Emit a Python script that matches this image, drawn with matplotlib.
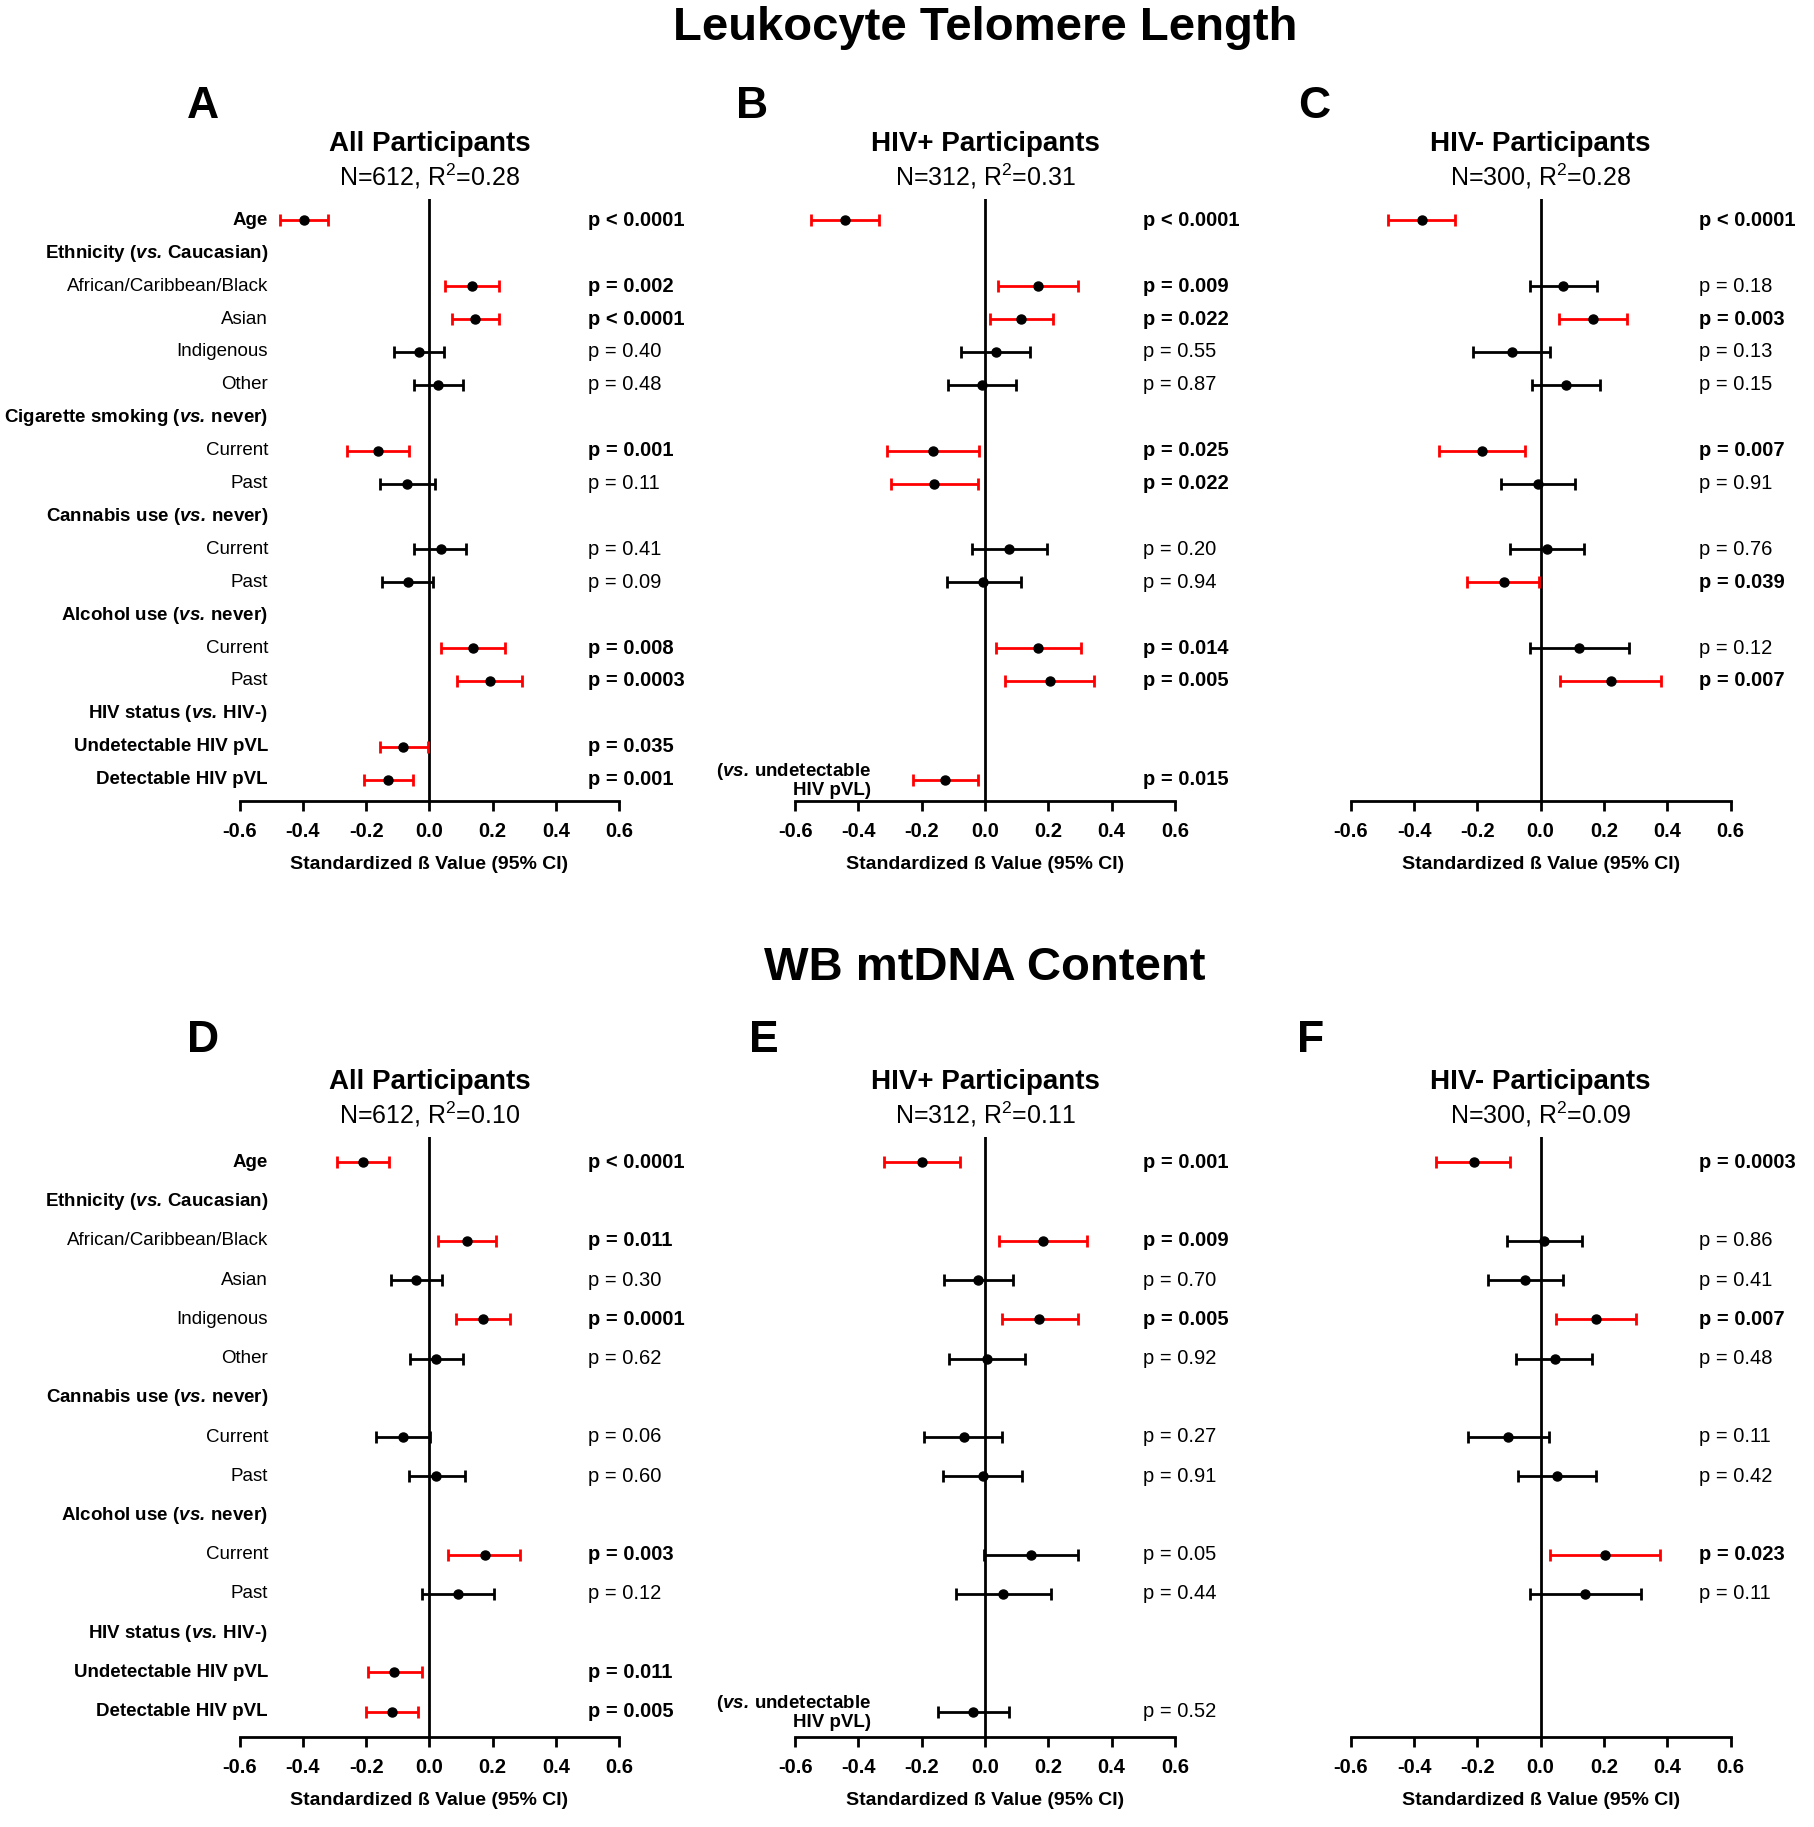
import numpy as np
import matplotlib
matplotlib.use("Agg")
import matplotlib.pyplot as plt

plt.rcParams["font.family"] = ["Liberation Sans", "DejaVu Sans"]
plt.rcParams["mathtext.fontset"] = "custom"
plt.rcParams["mathtext.rm"] = "Liberation Sans"
plt.rcParams["mathtext.it"] = "Liberation Sans:italic"
plt.rcParams["mathtext.bf"] = "Liberation Sans:bold"
plt.rcParams["mathtext.bfit"] = "Liberation Sans:bold:italic"
plt.rcParams["mathtext.default"] = "regular"

nan = np.nan

# row labels (text, bold)
VS = r"$\mathbfit{vs.}\,$"
labels_top = [("Age", True), ("Ethnicity (" + VS + "Caucasian)", True),
              ("African/Caribbean/Black", False), ("Asian", False), ("Indigenous", False), ("Other", False),
              ("Cigarette smoking (" + VS + "never)", True), ("Current", False), ("Past", False),
              ("Cannabis use (" + VS + "never)", True), ("Current", False), ("Past", False),
              ("Alcohol use (" + VS + "never)", True), ("Current", False), ("Past", False),
              ("HIV status (" + VS + "HIV-)", True), ("Undetectable HIV pVL", True), ("Detectable HIV pVL", True)]
rows_top = [0, 2, 3, 4, 5, 7, 8, 10, 11, 13, 14, 16, 17]

labels_bot = [("Age", True), ("Ethnicity (" + VS + "Caucasian)", True),
              ("African/Caribbean/Black", False), ("Asian", False), ("Indigenous", False), ("Other", False),
              ("Cannabis use (" + VS + "never)", True), ("Current", False), ("Past", False),
              ("Alcohol use (" + VS + "never)", True), ("Current", False), ("Past", False),
              ("HIV status (" + VS + "HIV-)", True), ("Undetectable HIV pVL", True), ("Detectable HIV pVL", True)]
rows_bot = [0, 2, 3, 4, 5, 7, 8, 10, 11, 13, 14]

# Leukocyte telomere length
est_A = [-0.398, 0.134, 0.144, -0.032, 0.027, -0.162, -0.070, 0.035, -0.069, 0.137, 0.190, -0.083, -0.130]
lo_A = [-0.473, 0.050, 0.070, -0.111, -0.048, -0.260, -0.157, -0.048, -0.150, 0.035, 0.087, -0.157, -0.207]
hi_A = [-0.322, 0.220, 0.221, 0.046, 0.105, -0.064, 0.017, 0.116, 0.010, 0.239, 0.294, -0.004, -0.053]
p_A = ["p < 0.0001", "p = 0.002", "p < 0.0001", "p = 0.40", "p = 0.48", "p = 0.001", "p = 0.11",
       "p = 0.41", "p = 0.09", "p = 0.008", "p = 0.0003", "p = 0.035", "p = 0.001"]

est_B = [-0.444, 0.167, 0.114, 0.034, -0.010, -0.166, -0.160, 0.077, -0.005, 0.167, 0.204, nan, -0.125]
lo_B = [-0.549, 0.041, 0.016, -0.075, -0.117, -0.311, -0.296, -0.042, -0.121, 0.035, 0.063, nan, -0.228]
hi_B = [-0.335, 0.295, 0.214, 0.141, 0.097, -0.020, -0.022, 0.195, 0.113, 0.302, 0.345, nan, -0.023]
p_B = ["p < 0.0001", "p = 0.009", "p = 0.022", "p = 0.55", "p = 0.87", "p = 0.025", "p = 0.022",
       "p = 0.20", "p = 0.94", "p = 0.014", "p = 0.005", "", "p = 0.015"]

est_C = [-0.376, 0.071, 0.166, -0.091, 0.080, -0.186, -0.007, 0.019, -0.117, 0.122, 0.221, nan, nan]
lo_C = [-0.482, -0.034, 0.058, -0.213, -0.027, -0.322, -0.124, -0.098, -0.233, -0.033, 0.061, nan, nan]
hi_C = [-0.270, 0.177, 0.273, 0.029, 0.187, -0.050, 0.109, 0.137, -0.005, 0.278, 0.380, nan, nan]
p_C = ["p < 0.0001", "p = 0.18", "p = 0.003", "p = 0.13", "p = 0.15", "p = 0.007", "p = 0.91",
       "p = 0.76", "p = 0.039", "p = 0.12", "p = 0.007", "", ""]

# WB mtDNA content
est_D = [-0.209, 0.119, -0.042, 0.168, 0.021, -0.084, 0.022, 0.174, 0.090, -0.111, -0.118]
lo_D = [-0.291, 0.028, -0.123, 0.083, -0.062, -0.168, -0.064, 0.059, -0.022, -0.195, -0.202]
hi_D = [-0.127, 0.211, 0.039, 0.253, 0.105, 0.001, 0.111, 0.286, 0.203, -0.025, -0.035]
p_D = ["p < 0.0001", "p = 0.011", "p = 0.30", "p = 0.0001", "p = 0.62", "p = 0.06", "p = 0.60",
       "p = 0.003", "p = 0.12", "p = 0.011", "p = 0.005"]

est_E = [-0.198, 0.182, -0.022, 0.172, 0.006, -0.068, -0.008, 0.145, 0.058, nan, -0.037]
lo_E = [-0.319, 0.043, -0.131, 0.053, -0.113, -0.193, -0.134, -0.004, -0.092, nan, -0.150]
hi_E = [-0.078, 0.321, 0.089, 0.293, 0.125, 0.054, 0.118, 0.295, 0.209, nan, 0.076]
p_E = ["p = 0.001", "p = 0.009", "p = 0.70", "p = 0.005", "p = 0.92", "p = 0.27", "p = 0.91",
       "p = 0.05", "p = 0.44", "", "p = 0.52"]

est_F = [-0.212, 0.012, -0.050, 0.174, 0.044, -0.103, 0.051, 0.203, 0.141, nan, nan]
lo_F = [-0.331, -0.107, -0.167, 0.049, -0.077, -0.230, -0.073, 0.028, -0.034, nan, nan]
hi_F = [-0.096, 0.130, 0.070, 0.300, 0.161, 0.026, 0.175, 0.377, 0.317, nan, nan]
p_F = ["p = 0.0003", "p = 0.86", "p = 0.41", "p = 0.007", "p = 0.48", "p = 0.11", "p = 0.42",
       "p = 0.023", "p = 0.11", "", ""]

W, H = 1815, 1827
fig = plt.figure(figsize=(W / 100, H / 100), dpi=100)


def px(x, y):
    return x / W, 1 - y / H


def significant(p):
    if "<" in p:
        return True
    return float(p.split("=")[1]) < 0.05


def panel(left, top_px, base_px, n_rows, rows, est, lo, hi, pv, title, sub, labels=None, note=False):
    x0, y1 = px(left, top_px)
    _, y0 = px(left, base_px)
    ax = fig.add_axes([x0, y0, 379.7 / W, y1 - y0])
    for r, e, l, h, p in zip(rows, est, lo, hi, pv):
        if p:
            sig = significant(p)
            ax.text(0.5, r, p, ha="left", va="center", fontsize=14.5,
                    fontweight="bold" if sig else "normal")
        if np.isnan(e):
            continue
        c = "#ff0000" if sig else "black"
        ax.errorbar([e], [r], xerr=[[e - l], [h - e]], fmt="o", color="black", ms=6.5,
                    ecolor=c, elinewidth=2, capsize=4.5, capthick=2, zorder=3)
    ax.axvline(0, color="black", lw=2, zorder=2)
    ax.set_xlim(-0.6, 0.6)
    ax.set_ylim(n_rows - 1 + 0.65, -0.65)
    ax.set_xticks(np.arange(-0.6, 0.61, 0.2))
    ax.set_xticklabels(["-0.6", "-0.4", "-0.2", "0.0", "0.2", "0.4", "0.6"], fontweight="bold", fontsize=14.5)
    ax.set_yticks([])
    for s in ["top", "right", "left"]:
        ax.spines[s].set_visible(False)
    ax.spines["bottom"].set_linewidth(2)
    ax.tick_params(axis="x", width=2, length=7, pad=8)
    ax.set_xlabel("Standardized ß Value (95% CI)", fontweight="bold", fontsize=14, labelpad=11)
    if labels:
        for i, (t, b) in enumerate(labels):
            ax.text(-0.51, i, t, ha="right", va="center", fontsize=13.5,
                    fontweight="bold" if b else "normal")
    if note:
        ax.text(-0.36, n_rows - 1, "(" + VS + "undetectable\nHIV pVL)", ha="right", va="center",
                fontsize=13.5, fontweight="bold", linespacing=1.0)
    cx = left + 379.7 / 2
    fig.text(*px(cx, top_px - 55), title, ha="center", va="center", fontsize=20, fontweight="bold")
    fig.text(*px(cx, top_px - 23), sub, ha="center", va="center", fontsize=18)
    return ax


lefts = [239.6, 795.2, 1350.8]

# top row
panel(lefts[0], 199, 801, 18, rows_top, est_A, lo_A, hi_A, p_A, "All Participants",
      "N=612, R$^{2}$=0.28", labels=labels_top)
panel(lefts[1], 199, 801, 18, rows_top, est_B, lo_B, hi_B, p_B, "HIV+ Participants",
      "N=312, R$^{2}$=0.31", note=True)
panel(lefts[2], 199, 801, 18, rows_top, est_C, lo_C, hi_C, p_C, "HIV- Participants",
      "N=300, R$^{2}$=0.28")

# bottom row
panel(lefts[0], 1137, 1737, 15, rows_bot, est_D, lo_D, hi_D, p_D, "All Participants",
      "N=612, R$^{2}$=0.10", labels=labels_bot)
panel(lefts[1], 1137, 1737, 15, rows_bot, est_E, lo_E, hi_E, p_E, "HIV+ Participants",
      "N=312, R$^{2}$=0.11", note=True)
panel(lefts[2], 1137, 1737, 15, rows_bot, est_F, lo_F, hi_F, p_F, "HIV- Participants",
      "N=300, R$^{2}$=0.09")

fig.text(*px(985, 28), "Leukocyte Telomere Length", ha="center", va="center", fontsize=34, fontweight="bold")
fig.text(*px(985, 968), "WB mtDNA Content", ha="center", va="center", fontsize=34, fontweight="bold")

for letter, x, y in [("A", 203, 106), ("B", 752, 106), ("C", 1314, 106),
                     ("D", 203, 1040), ("E", 764, 1040), ("F", 1311, 1040)]:
    fig.text(*px(x, y), letter, ha="center", va="center", fontsize=32, fontweight="bold")

fig.savefig("out.png", dpi=100)
